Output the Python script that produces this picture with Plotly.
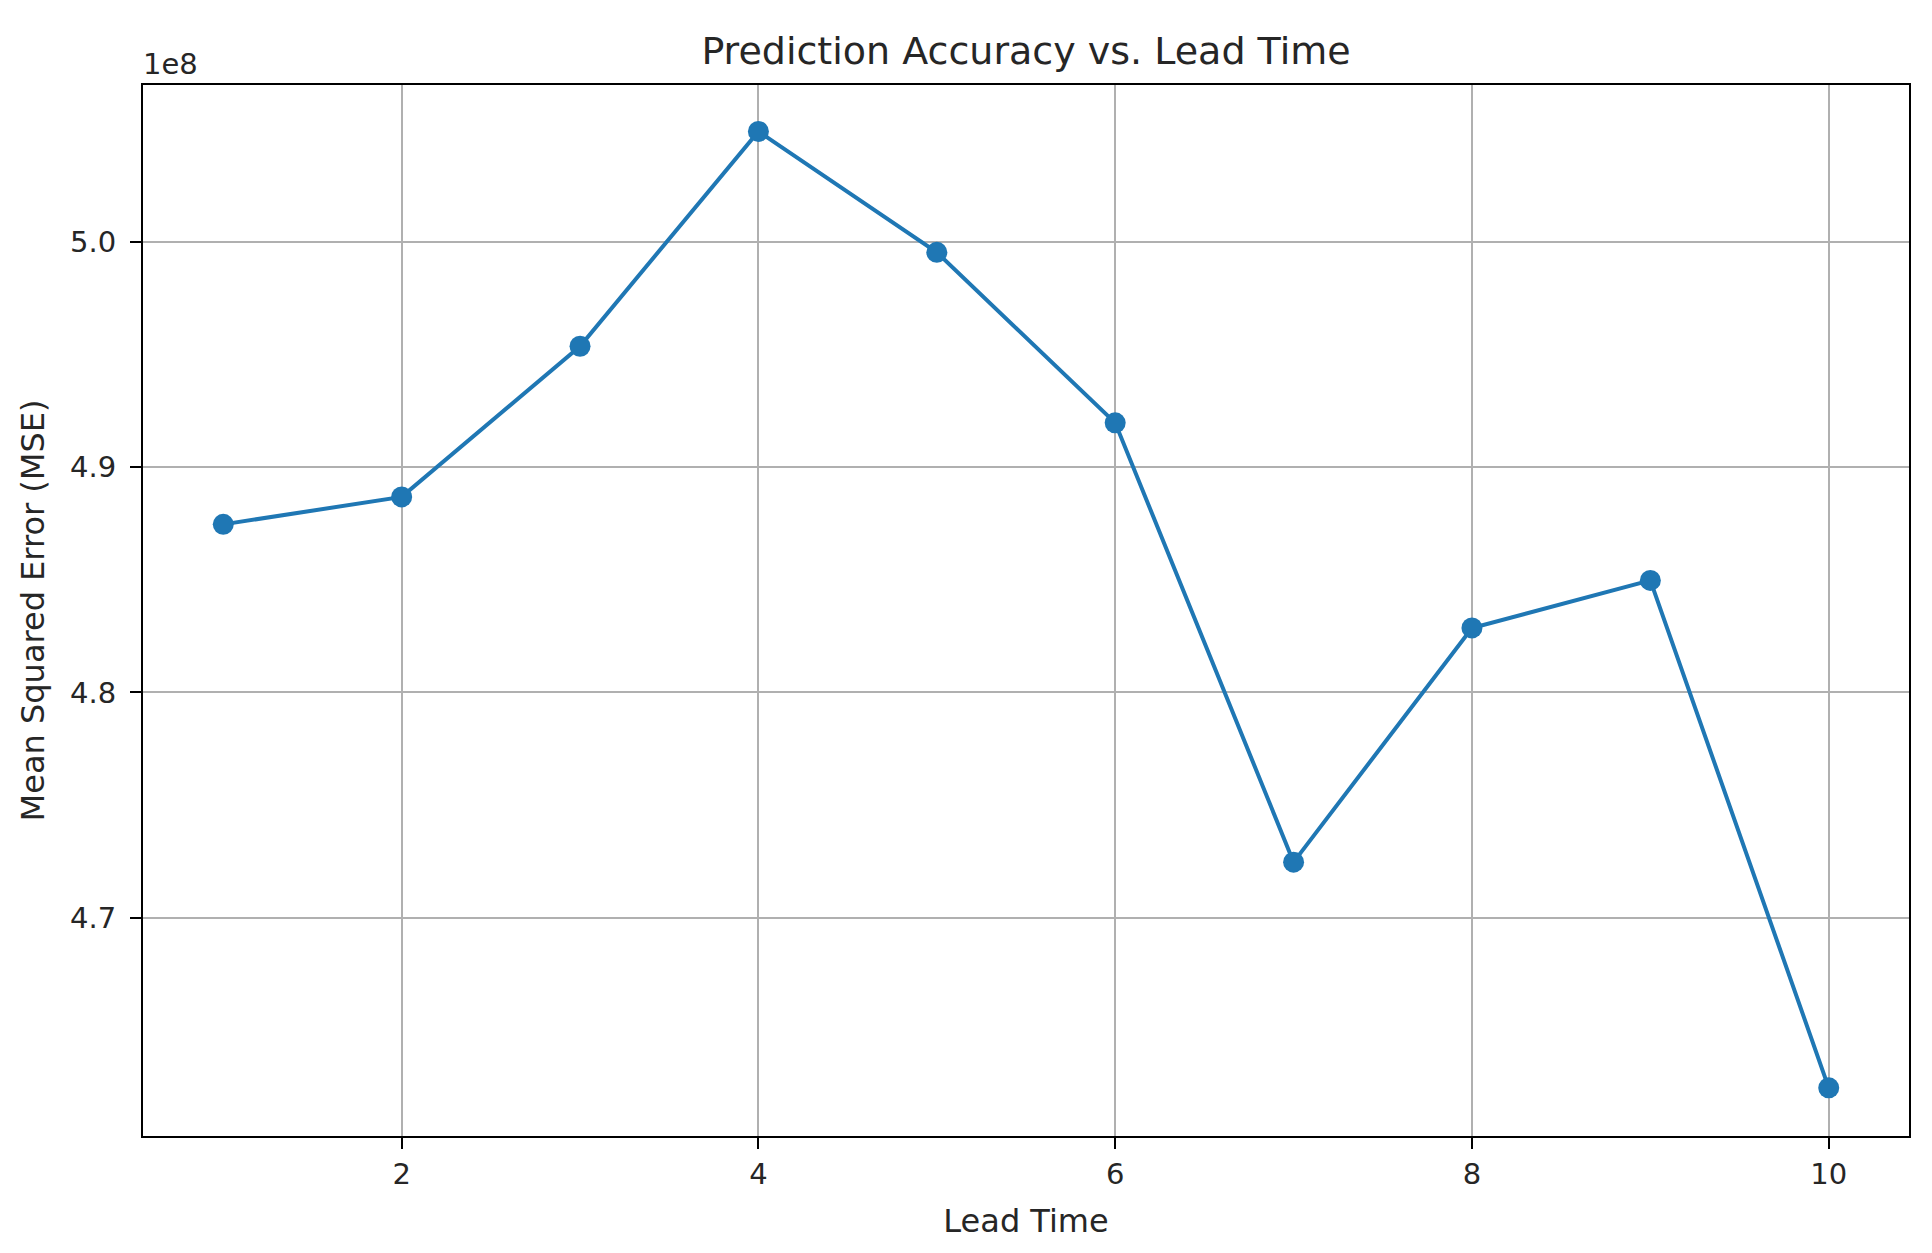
import plotly.graph_objects as go

# Data
lead_time = [1, 2, 3, 4, 5, 6, 7, 8, 9, 10]
mse = [4.8746e8, 4.8868e8, 4.9537e8, 5.0491e8, 4.9954e8,
       4.9197e8, 4.7246e8, 4.8286e8, 4.8497e8, 4.6244e8]

x_tick_vals = [2, 4, 6, 8, 10]
y_tick_vals = [4.7e8, 4.8e8, 4.9e8, 5.0e8]
y_tick_text = ["4.7", "4.8", "4.9", "5.0"]

FONT = "DejaVu Sans"
BLUE = "#1f77b4"
TXT = "#262626"

# the page body adds an 8px offset, so the figure is 8px smaller on each axis
W, H = 1924, 1245

fig = go.Figure()
fig.add_trace(go.Scatter(
    x=lead_time, y=mse, mode="lines+markers",
    line=dict(color=BLUE, width=4),
    marker=dict(color=BLUE, size=21),
    showlegend=False,
))

axis_common = dict(
    showline=True, mirror=True, linecolor="black", linewidth=2,
    ticks="outside", ticklen=11, tickwidth=2, tickcolor="black",
    showgrid=True, gridcolor="#b0b0b0", gridwidth=2,
    zeroline=False,
    tickfont=dict(family=FONT, size=29, color=TXT),
)

fig.update_layout(
    width=W, height=H,
    margin=dict(l=135, r=23, t=77, b=117),
    paper_bgcolor="white", plot_bgcolor="white",
    font=dict(family=FONT, color=TXT),
    title=dict(
        text="Prediction Accuracy vs. Lead Time",
        font=dict(family=FONT, size=38, color=TXT),
        x=0.5, xref="paper", xanchor="center",
        y=1 - 42.5 / H, yref="container", yanchor="middle",
    ),
    xaxis=dict(
        range=[0.55, 10.45], tickvals=x_tick_vals,
        title=dict(text="Lead Time", font=dict(family=FONT, size=32, color=TXT), standoff=20),
        ticklabelstandoff=0,
        **axis_common,
    ),
    yaxis=dict(
        range=[4.603e8, 5.0697e8], tickvals=y_tick_vals, ticktext=y_tick_text,
        title=dict(text="Mean Squared Error (MSE)", font=dict(family=FONT, size=32, color=TXT), standoff=16),
        ticklabelstandoff=8,
        **axis_common,
    ),
    annotations=[dict(
        text="1e8", xref="paper", yref="paper", x=0, y=1,
        xanchor="left", yanchor="bottom", showarrow=False, yshift=2, xshift=-2,
        font=dict(family=FONT, size=29, color=TXT),
    )],
)

fig.write_html("out.html")
